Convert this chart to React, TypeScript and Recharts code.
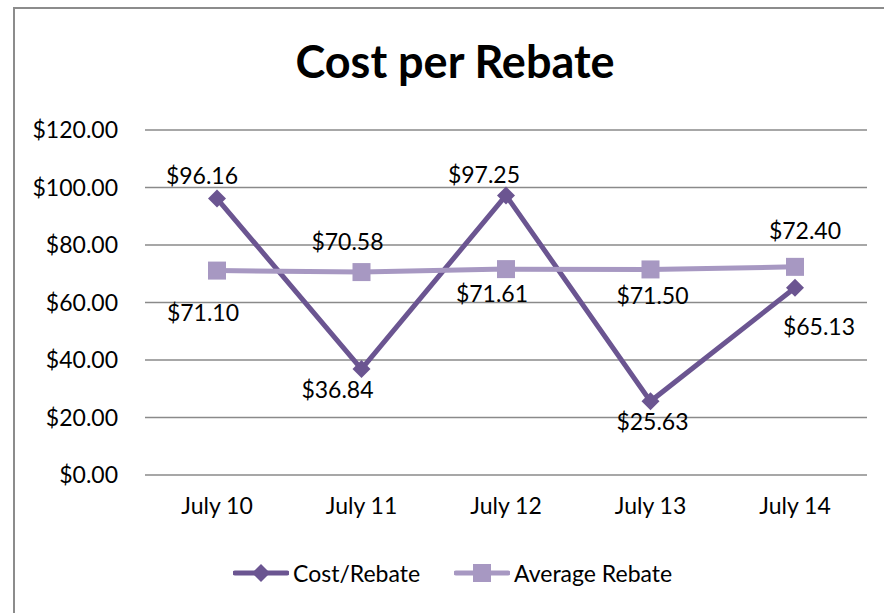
import React from 'react';
import { ComposedChart, Line, XAxis, YAxis, CartesianGrid } from 'recharts';

// Chart values
const days = ['July 10', 'July 11', 'July 12', 'July 13', 'July 14'];
const costPerRebate = [96.16, 36.84, 97.25, 25.63, 65.13];
const averageRebate = [71.1, 70.58, 71.61, 71.5, 72.4];
const yTicks = [0, 20, 40, 60, 80, 100, 120];

// where each data label sits relative to its point (dx, dy in px), as Excel placed them
const costLabelShift = [[-15, -24], [-24, 20], [-22, -21], [2, 20], [24, 38]];
const avgLabelShift = [[-14, 41], [-14, -31], [-14, 24], [2, 26], [10, -37]];

const COST_COLOR = '#6b5591';
const AVG_COLOR = '#a798c2';
const GRID_COLOR = '#8a8a8a';
const FONT = 'Lato, "Open Sans", sans-serif';
const FS = 23;

const money = (v: number) => '$' + v.toFixed(2);

const Diamond = ({ cx, cy, fill }: any) => {
  if (cx == null || cy == null) return null;
  const r = 9;
  return <polygon points={`${cx},${cy - r} ${cx + r},${cy} ${cx},${cy + r} ${cx - r},${cy}`} fill={fill} />;
};

const Square = ({ cx, cy, fill }: any) => {
  if (cx == null || cy == null) return null;
  const s = 18;
  return <rect x={cx - s / 2} y={cy - s / 2} width={s} height={s} fill={fill} />;
};

const makeLabel = (values: number[], shift: number[][]) => (props: any) => {
  const { x, y, index } = props;
  if (x == null || y == null) return null;
  const i = index ?? 0;
  const [dx, dy] = shift[i] || [0, -20];
  return (
    <text x={x + dx} y={y + dy} textAnchor="middle" dominantBaseline="central"
      fontFamily={FONT} fontSize={FS} fill="#000">
      {money(values[i])}
    </text>
  );
};

const LegendIcon = ({ color, square }: { color: string; square?: boolean }) => (
  <svg width={56} height={20} style={{ marginRight: 4 }}>
    <line x1={2} y1={10} x2={54} y2={10} stroke={color} strokeWidth={5} strokeLinecap="round" />
    {square
      ? <rect x={19} y={1} width={18} height={18} fill={color} />
      : <polygon points="28,1 37,10 28,19 19,10" fill={color} />}
  </svg>
);

const App = () => {
  const data = days.map((d, i) => ({ day: d, cost: costPerRebate[i], avg: averageRebate[i] }));

  return (
    <div style={{ position: 'absolute', left: 0, top: 0, width: 884, height: 613, overflow: 'hidden', background: '#fff', fontFamily: FONT }}>
      {/* frame */}
      <div style={{ position: 'absolute', left: 13, top: 7, width: 884, height: 640, border: '2px solid #8c8c8c', boxSizing: 'border-box' }} />
      <div style={{ position: 'absolute', left: 13, width: 884, top: 34, textAlign: 'center', fontSize: 45, fontWeight: 700, color: '#000' }}>
        Cost per Rebate
      </div>
      <div style={{ position: 'absolute', left: 0, top: 0 }}>
        <ComposedChart width={884} height={613} data={data} margin={{ top: 130, right: 17, bottom: 98, left: 20 }}>
          <CartesianGrid vertical={false} stroke={GRID_COLOR} strokeWidth={1.5} />
          <XAxis dataKey="day" axisLine={false} tickLine={false} tickSize={0} tickMargin={23} height={40}
            padding={{ left: 72, right: 72 }}
            tick={{ fontFamily: FONT, fontSize: FS, fill: '#000' }} />
          <YAxis domain={[0, 120]} ticks={yTicks} width={125} axisLine={false} tickLine={false} tickSize={0} tickMargin={27}
            tickFormatter={money} tick={{ fontFamily: FONT, fontSize: FS, fill: '#000' }} />
          <Line dataKey="cost" stroke={COST_COLOR} strokeWidth={5} isAnimationActive={false}
            dot={<Diamond fill={COST_COLOR} />} activeDot={false}
            label={makeLabel(costPerRebate, costLabelShift)} />
          <Line dataKey="avg" stroke={AVG_COLOR} strokeWidth={5} isAnimationActive={false}
            dot={<Square fill={AVG_COLOR} />} activeDot={false}
            label={makeLabel(averageRebate, avgLabelShift)} />
        </ComposedChart>
      </div>
      <div style={{ position: 'absolute', left: 233, top: 559, display: 'flex', alignItems: 'center', fontSize: FS, color: '#000' }}>
        <LegendIcon color={COST_COLOR} />
        <span style={{ marginRight: 34 }}>Cost/Rebate</span>
        <LegendIcon color={AVG_COLOR} square />
        <span>Average Rebate</span>
      </div>
    </div>
  );
};

export default App;
